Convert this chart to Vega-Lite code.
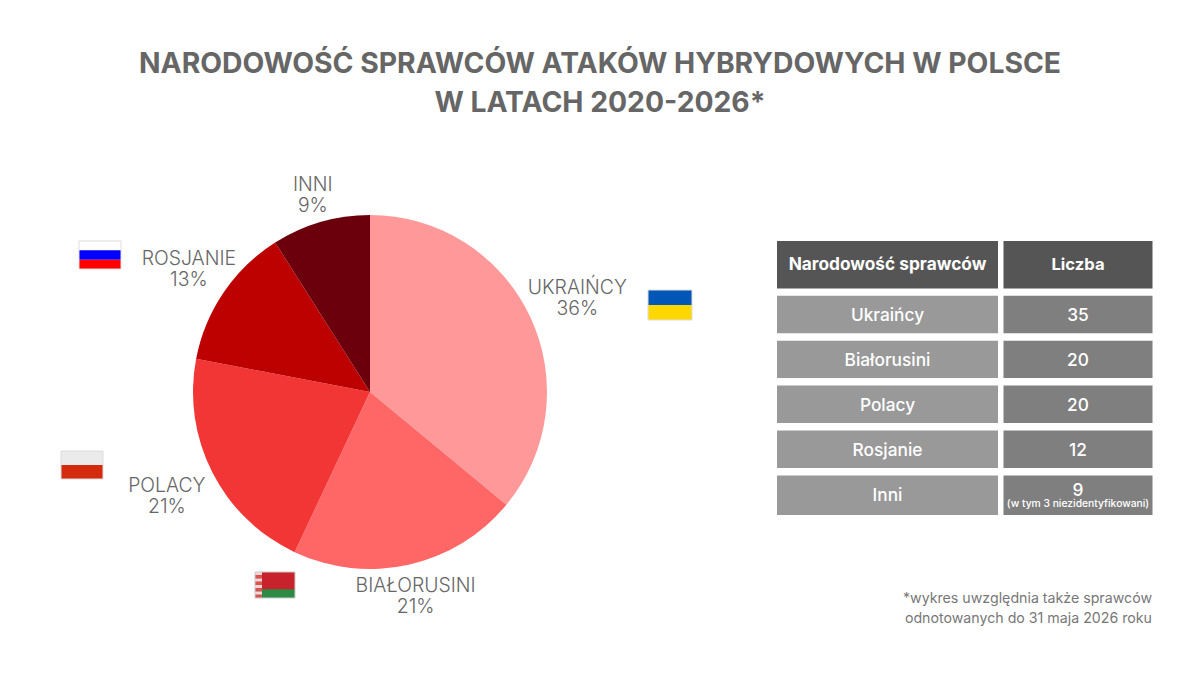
{"$schema":"https://vega.github.io/schema/vega-lite/v6.json","width":1200,"height":675,"padding":0,"autosize":{"type":"none"},"background":"#ffffff",
"title":{"text":["NARODOWOŚĆ SPRAWCÓW ATAKÓW HYBRYDOWYCH W POLSCE","W LATACH 2020-2026*"],"anchor":"middle","frame":"group","font":"Inter","fontSize":28.3,"fontWeight":700,"color":"#666666","lineHeight":39,"dy":144,"baseline":"alphabetic"},
"config":{"view":{"stroke":null},"axis":{"disable":true},"scale":{"bandPaddingInner":0,"bandPaddingOuter":0,"rectBandPaddingInner":0},"legend":{"disable":true},"text":{"font":"Inter"}},
"datasets":{
"udzial":[{"nationality":"Ukraińcy","share":36,"rank":1,"label":"UKRAIŃCY\n36%"},{"nationality":"Białorusini","share":21,"rank":2,"label":"BIAŁORUSINI\n21%"},{"nationality":"Polacy","share":21,"rank":3,"label":"POLACY\n21%"},{"nationality":"Rosjanie","share":13,"rank":4,"label":"ROSJANIE\n13%"},{"nationality":"Inni","share":9,"rank":5,"label":"INNI\n9%"}],
"tabela":[{"nationality":"Ukraińcy","count":35},{"nationality":"Białorusini","count":20},{"nationality":"Polacy","count":20},{"nationality":"Rosjanie","count":12},{"nationality":"Inni","count":9,"note":"(w tym 3 niezidentyfikowani)"}],
"flagi":[{"flag":"Rosja","stripe":"biały"},{"flag":"Rosja","stripe":"niebieski"},{"flag":"Rosja","stripe":"czerwony"},{"flag":"Polska","stripe":"biały"},{"flag":"Polska","stripe":"czerwony"},{"flag":"Ukraina","stripe":"niebieski"},{"flag":"Ukraina","stripe":"żółty"},{"flag":"Białoruś","stripe":"zielony"},{"flag":"Ornament","stripe":"o1"},{"flag":"Ornament","stripe":"o2"},{"flag":"Ornament","stripe":"o3"},{"flag":"Ornament","stripe":"o4"},{"flag":"Ornament","stripe":"o5"},{"flag":"Ornament","stripe":"o6"},{"flag":"Ornament","stripe":"o7"},{"flag":"Ornament","stripe":"o8"}]
},
"resolve":{"scale":{"x":"independent","y":"independent","color":"independent"}},
"layer":[
{"data":{"name":"udzial"},"mark":{"type":"arc","outerRadius":177},"encoding":{"x":{"datum":"pie","type":"nominal","scale":{"type":"band","domain":["pie"],"range":[193,547]}},"y":{"datum":"pie","type":"nominal","scale":{"type":"band","domain":["pie"],"range":[215,569]}},"theta":{"field":"share","type":"quantitative","stack":"zero","scale":{"domain":[0,100]}},"order":{"field":"rank"},"color":{"field":"nationality","type":"nominal","scale":{"domain":["Ukraińcy","Białorusini","Polacy","Rosjanie","Inni"],"range":["#ff9999","#ff6666","#f23535","#bd0000","#6b000c"]}}}},
{"data":{"name":"udzial"},"mark":{"type":"text","fontSize":19.4,"fontWeight":300,"color":"#666666","lineHeight":21,"lineBreak":"\n","dy":-7,"dx":1},"encoding":{"x":{"datum":"pie","type":"nominal","scale":{"type":"band","domain":["pie"],"range":[193,547]}},"y":{"datum":"pie","type":"nominal","scale":{"type":"band","domain":["pie"],"range":[215,569]}},"theta":{"field":"share","type":"quantitative","stack":"zero","scale":{"domain":[0,100]}},"order":{"field":"rank"},"detail":{"field":"nationality"},"radius":{"value":228},"text":{"condition":{"test":"datum.nationality==='Ukraińcy'","field":"label"},"value":""}}},
{"data":{"name":"udzial"},"mark":{"type":"text","fontSize":19.4,"fontWeight":300,"color":"#666666","lineHeight":21,"lineBreak":"\n","dy":-10},"encoding":{"x":{"datum":"pie","type":"nominal","scale":{"type":"band","domain":["pie"],"range":[193,547]}},"y":{"datum":"pie","type":"nominal","scale":{"type":"band","domain":["pie"],"range":[215,569]}},"theta":{"field":"share","type":"quantitative","stack":"zero","scale":{"domain":[0,100]}},"order":{"field":"rank"},"detail":{"field":"nationality"},"radius":{"value":228},"text":{"condition":{"test":"datum.nationality==='Polacy'","field":"label"},"value":""}}},
{"data":{"name":"udzial"},"mark":{"type":"text","fontSize":19.4,"fontWeight":300,"color":"#666666","lineHeight":21,"lineBreak":"\n","dy":-10},"encoding":{"x":{"datum":"pie","type":"nominal","scale":{"type":"band","domain":["pie"],"range":[193,547]}},"y":{"datum":"pie","type":"nominal","scale":{"type":"band","domain":["pie"],"range":[215,569]}},"theta":{"field":"share","type":"quantitative","stack":"zero","scale":{"domain":[0,100]}},"order":{"field":"rank"},"detail":{"field":"nationality"},"radius":{"value":209},"text":{"condition":{"test":"datum.nationality==='Białorusini'","field":"label"},"value":""}}},
{"data":{"name":"udzial"},"mark":{"type":"text","fontSize":19.4,"fontWeight":300,"color":"#666666","lineHeight":21,"lineBreak":"\n","dy":-10},"encoding":{"x":{"datum":"pie","type":"nominal","scale":{"type":"band","domain":["pie"],"range":[193,547]}},"y":{"datum":"pie","type":"nominal","scale":{"type":"band","domain":["pie"],"range":[215,569]}},"theta":{"field":"share","type":"quantitative","stack":"zero","scale":{"domain":[0,100]}},"order":{"field":"rank"},"detail":{"field":"nationality"},"radius":{"value":219},"text":{"condition":{"test":"datum.nationality==='Rosjanie'","field":"label"},"value":""}}},
{"data":{"name":"udzial"},"mark":{"type":"text","fontSize":19.4,"fontWeight":300,"color":"#666666","lineHeight":21,"lineBreak":"\n","dy":-10},"encoding":{"x":{"datum":"pie","type":"nominal","scale":{"type":"band","domain":["pie"],"range":[193,547]}},"y":{"datum":"pie","type":"nominal","scale":{"type":"band","domain":["pie"],"range":[215,569]}},"theta":{"field":"share","type":"quantitative","stack":"zero","scale":{"domain":[0,100]}},"order":{"field":"rank"},"detail":{"field":"nationality"},"radius":{"value":205},"text":{"condition":{"test":"datum.nationality==='Inni'","field":"label"},"value":""}}},

{"data":{"name":"flagi"},"transform":[{"filter":"datum.flag==='Rosja'"}],"mark":"rect","encoding":{"x":{"field":"flag","type":"nominal","scale":{"type":"band","domain":["Rosja"],"range":[79,121]}},"y":{"field":"stripe","type":"nominal","scale":{"type":"band","domain":["biały","niebieski","czerwony"],"range":[241,269]}},"color":{"field":"stripe","type":"nominal","scale":{"domain":["biały","niebieski","czerwony"],"range":["#ffffff","#0000ff","#ff0000"]}}}},
{"data":{"name":"flagi"},"transform":[{"filter":"datum.flag==='Polska'"}],"mark":"rect","encoding":{"x":{"field":"flag","type":"nominal","scale":{"type":"band","domain":["Polska"],"range":[61,103]}},"y":{"field":"stripe","type":"nominal","scale":{"type":"band","domain":["biały","czerwony"],"range":[451,479]}},"color":{"field":"stripe","type":"nominal","scale":{"domain":["biały","czerwony"],"range":["#ebebeb","#d42a0e"]}}}},
{"data":{"name":"flagi"},"transform":[{"filter":"datum.flag==='Ukraina'"}],"mark":"rect","encoding":{"x":{"field":"flag","type":"nominal","scale":{"type":"band","domain":["Ukraina"],"range":[648,692]}},"y":{"field":"stripe","type":"nominal","scale":{"type":"band","domain":["niebieski","żółty"],"range":[290,320]}},"color":{"field":"stripe","type":"nominal","scale":{"domain":["niebieski","żółty"],"range":["#0057b7","#ffd700"]}}}},
{"data":{"values":[{"flag":"Białoruś"}]},"mark":{"type":"rect","color":"#c8222c"},"encoding":{"x":{"field":"flag","type":"nominal","scale":{"type":"band","domain":["Białoruś"],"range":[255,295]}},"y":{"field":"flag","type":"nominal","scale":{"type":"band","domain":["Białoruś"],"range":[572,598]}}}},
{"data":{"name":"flagi"},"transform":[{"filter":"datum.flag==='Białoruś'"}],"mark":{"type":"rect","color":"#2d8a45"},"encoding":{"x":{"field":"flag","type":"nominal","scale":{"type":"band","domain":["Białoruś"],"range":[255,295]}},"y":{"field":"stripe","type":"nominal","scale":{"type":"band","domain":["czerwony 1","czerwony 2","zielony"],"range":[572,598]}}}},
{"data":{"name":"flagi"},"transform":[{"filter":"datum.flag==='Ornament'"}],"mark":"rect","encoding":{"x":{"field":"flag","type":"nominal","scale":{"type":"band","domain":["Ornament"],"range":[255,262]}},"y":{"field":"stripe","type":"nominal","scale":{"type":"band","domain":["o1","o2","o3","o4","o5","o6","o7","o8"],"range":[572,598]}},"color":{"field":"stripe","type":"nominal","scale":{"domain":["o1","o2","o3","o4","o5","o6","o7","o8"],"range":["#f5d5d5","#d9534f","#f5d5d5","#d9534f","#f5d5d5","#d9534f","#f5d5d5","#d9534f"]}}}},
{"data":{"values":[{"flag":"Rosja"}]},"mark":{"type":"rect","fillOpacity":0,"stroke":"#dddddd","strokeWidth":1},"encoding":{"x":{"field":"flag","type":"nominal","scale":{"type":"band","domain":["Rosja"],"range":[79,121]}},"y":{"field":"flag","type":"nominal","scale":{"type":"band","domain":["Rosja"],"range":[241,269]}}}},
{"data":{"values":[{"flag":"Polska"}]},"mark":{"type":"rect","fillOpacity":0,"stroke":"#dddddd","strokeWidth":1},"encoding":{"x":{"field":"flag","type":"nominal","scale":{"type":"band","domain":["Polska"],"range":[61,103]}},"y":{"field":"flag","type":"nominal","scale":{"type":"band","domain":["Polska"],"range":[451,479]}}}},
{"data":{"values":[{"flag":"Ukraina"}]},"mark":{"type":"rect","fillOpacity":0,"stroke":"#dddddd","strokeWidth":1},"encoding":{"x":{"field":"flag","type":"nominal","scale":{"type":"band","domain":["Ukraina"],"range":[648,692]}},"y":{"field":"flag","type":"nominal","scale":{"type":"band","domain":["Ukraina"],"range":[290,320]}}}},
{"data":{"values":[{"flag":"Białoruś"}]},"mark":{"type":"rect","fillOpacity":0,"stroke":"#cccccc","strokeWidth":1},"encoding":{"x":{"field":"flag","type":"nominal","scale":{"type":"band","domain":["Białoruś"],"range":[255,295]}},"y":{"field":"flag","type":"nominal","scale":{"type":"band","domain":["Białoruś"],"range":[572,598]}}}},

{"data":{"values":[{"column":"Narodowość sprawców"}]},"mark":{"type":"rect","color":"#555555"},"encoding":{"x":{"field":"column","type":"nominal","scale":{"type":"band","domain":["Narodowość sprawców"],"range":[777,998]}},"y":{"field":"column","type":"nominal","scale":{"type":"band","domain":["Narodowość sprawców"],"range":[241,288.5]}}}},
{"data":{"values":[{"column":"Narodowość sprawców"}]},"mark":{"type":"text","fontSize":17.3,"fontWeight":700,"color":"#ffffff"},"encoding":{"text":{"field":"column"},"x":{"field":"column","type":"nominal","scale":{"type":"band","domain":["Narodowość sprawców"],"range":[777,998]}},"y":{"field":"column","type":"nominal","scale":{"type":"band","domain":["Narodowość sprawców"],"range":[241,288.5]}}}},
{"data":{"values":[{"column":"Liczba"}]},"mark":{"type":"rect","color":"#555555"},"encoding":{"x":{"field":"column","type":"nominal","scale":{"type":"band","domain":["Liczba"],"range":[1003.5,1152.5]}},"y":{"field":"column","type":"nominal","scale":{"type":"band","domain":["Liczba"],"range":[241,288.5]}}}},
{"data":{"values":[{"column":"Liczba"}]},"mark":{"type":"text","fontSize":16.6,"fontWeight":700,"color":"#ffffff"},"encoding":{"text":{"field":"column"},"x":{"field":"column","type":"nominal","scale":{"type":"band","domain":["Liczba"],"range":[1003.5,1152.5]}},"y":{"field":"column","type":"nominal","scale":{"type":"band","domain":["Liczba"],"range":[241,288.5]}}}},

{"data":{"name":"tabela"},"transform":[{"filter":"datum.nationality!=='Inni'"}],"mark":{"type":"rect","color":"#999999"},"encoding":{"x":{"datum":"nat","type":"nominal","scale":{"type":"band","domain":["nat"],"range":[777,998]}},"y":{"field":"nationality","type":"nominal","scale":{"type":"band","domain":["Ukraińcy","Białorusini","Polacy","Rosjanie"],"range":[295.7,468],"paddingInner":0.167}}}},
{"data":{"name":"tabela"},"transform":[{"filter":"datum.nationality!=='Inni'"}],"mark":{"type":"rect","color":"#7f7f7f"},"encoding":{"x":{"datum":"cnt","type":"nominal","scale":{"type":"band","domain":["cnt"],"range":[1003.5,1152.5]}},"y":{"field":"nationality","type":"nominal","scale":{"type":"band","domain":["Ukraińcy","Białorusini","Polacy","Rosjanie"],"range":[295.7,468],"paddingInner":0.167}}}},
{"data":{"name":"tabela"},"transform":[{"filter":"datum.nationality==='Inni'"}],"mark":{"type":"rect","color":"#999999"},"encoding":{"x":{"datum":"nat","type":"nominal","scale":{"type":"band","domain":["nat"],"range":[777,998]}},"y":{"field":"nationality","type":"nominal","scale":{"type":"band","domain":["Inni"],"range":[475.5,515]}}}},
{"data":{"name":"tabela"},"transform":[{"filter":"datum.nationality==='Inni'"}],"mark":{"type":"rect","color":"#7f7f7f"},"encoding":{"x":{"datum":"cnt","type":"nominal","scale":{"type":"band","domain":["cnt"],"range":[1003.5,1152.5]}},"y":{"field":"nationality","type":"nominal","scale":{"type":"band","domain":["Inni"],"range":[475.5,515]}}}},
{"data":{"name":"tabela"},"transform":[{"filter":"datum.nationality!=='Inni'"}],"mark":{"type":"text","fontSize":17.3,"fontWeight":500,"color":"#ffffff","dy":2},"encoding":{"text":{"field":"nationality"},"x":{"datum":"nat","type":"nominal","scale":{"type":"band","domain":["nat"],"range":[777,998]}},"y":{"field":"nationality","type":"nominal","scale":{"type":"band","domain":["Ukraińcy","Białorusini","Polacy","Rosjanie"],"range":[295.7,468],"paddingInner":0.167}}}},
{"data":{"name":"tabela"},"transform":[{"filter":"datum.nationality!=='Inni'"}],"mark":{"type":"text","fontSize":17.3,"fontWeight":500,"color":"#ffffff","dy":2},"encoding":{"text":{"field":"count","type":"quantitative"},"x":{"datum":"cnt","type":"nominal","scale":{"type":"band","domain":["cnt"],"range":[1003.5,1152.5]}},"y":{"field":"nationality","type":"nominal","scale":{"type":"band","domain":["Ukraińcy","Białorusini","Polacy","Rosjanie"],"range":[295.7,468],"paddingInner":0.167}}}},
{"data":{"name":"tabela"},"transform":[{"filter":"datum.nationality==='Inni'"}],"mark":{"type":"text","fontSize":17.3,"fontWeight":500,"color":"#ffffff","dy":1},"encoding":{"text":{"field":"nationality"},"x":{"datum":"nat","type":"nominal","scale":{"type":"band","domain":["nat"],"range":[777,998]}},"y":{"field":"nationality","type":"nominal","scale":{"type":"band","domain":["Inni"],"range":[475.5,515]}}}},
{"data":{"name":"tabela"},"transform":[{"filter":"datum.nationality==='Inni'"}],"mark":{"type":"text","fontSize":17.3,"fontWeight":500,"color":"#ffffff","dy":-4},"encoding":{"text":{"field":"count","type":"quantitative"},"x":{"datum":"cnt","type":"nominal","scale":{"type":"band","domain":["cnt"],"range":[1003.5,1152.5]}},"y":{"field":"nationality","type":"nominal","scale":{"type":"band","domain":["Inni"],"range":[475.5,515]}}}},
{"data":{"name":"tabela"},"transform":[{"filter":"datum.nationality==='Inni'"}],"mark":{"type":"text","fontSize":10.3,"fontWeight":500,"color":"#ffffff","dy":9},"encoding":{"text":{"field":"note"},"x":{"datum":"cnt","type":"nominal","scale":{"type":"band","domain":["cnt"],"range":[1003.5,1152.5]}},"y":{"field":"nationality","type":"nominal","scale":{"type":"band","domain":["Inni"],"range":[475.5,515]}}}},

{"data":{"values":[{"line":"*wykres uwzględnia także sprawców","pos":"a"},{"line":"odnotowanych do 31 maja 2026 roku","pos":"b"}]},"mark":{"type":"text","fontSize":14.2,"fontWeight":400,"color":"#777777","align":"right"},"encoding":{"text":{"field":"line"},"x":{"datum":"note","type":"nominal","bandPosition":1,"scale":{"type":"band","domain":["note"],"range":[900,1152]}},"y":{"field":"pos","type":"nominal","scale":{"type":"band","domain":["a","b"],"range":[589,629]}}}}
]}
